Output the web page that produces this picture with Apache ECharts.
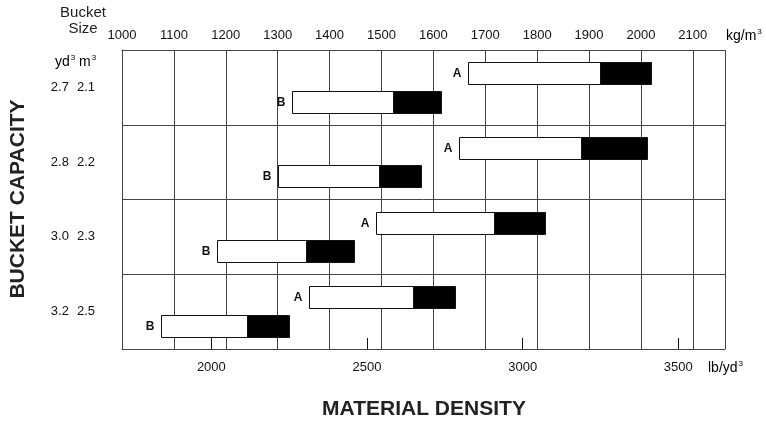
<!DOCTYPE html>
<html>
<head>
<meta charset="utf-8">
<script src="https://cdn.jsdelivr.net/npm/echarts@6/dist/echarts.min.js"></script>
<style>
  html, body { margin: 0; padding: 0; background: #fff; }
  #chart { width: 766px; height: 421px; }
</style>
</head>
<body>
<div id="chart"></div>
<script>
// bucket sizes (rows, top to bottom)
var bucketYd = ['2.7', '2.8', '3.0', '3.2'];
var bucketM = ['2.1', '2.2', '2.3', '2.5'];

// density ranges in kg/m3: white part start, black part start, end
var aStart = [1667, 1650, 1489, 1360];
var aMid = [1922, 1885, 1717, 1561];
var aEnd = [2019, 2012, 1815, 1642];
var bStart = [1328, 1300, 1183, 1075];
var bMid = [1522, 1495, 1355, 1241];
var bEnd = [1615, 1576, 1448, 1322];

// lower scale tick labels (lb/yd3)
var lbTicks = [2000, 2500, 3000, 3500];

var NARROW = '"Liberation Sans Narrow", "Liberation Sans", Arial, sans-serif';
var SANS = '"Liberation Sans", Arial, sans-serif';
var LINE = '#444';

var barData = [];
for (var i = 0; i < bucketYd.length; i++) {
  barData.push([i, aStart[i], aMid[i], aEnd[i], 'A']);
  barData.push([i, bStart[i], bMid[i], bEnd[i], 'B']);
}

function renderBar(params, api) {
  var row = api.value(0);
  var band = api.size([0, 1])[1];
  var mid = api.coord([api.value(1), row])[1];
  var top = mid - band / 2;
  var name = barData[params.dataIndex][4];
  var h = Math.round(band * 0.30);
  var yc = top + band * (name === 'A' ? 0.31 : 0.69);
  var y0 = Math.round(yc - h / 2) + 0.5;
  var x0 = Math.round(api.coord([api.value(1), row])[0]) + 0.5;
  var x1 = Math.round(api.coord([api.value(2), row])[0]) + 0.5;
  var x2 = Math.round(api.coord([api.value(3), row])[0]) + 0.5;
  return {
    type: 'group',
    children: [
      { type: 'rect', shape: { x: x0, y: y0, width: x1 - x0, height: h },
        style: { fill: '#fff', stroke: '#111', lineWidth: 1 } },
      { type: 'rect', shape: { x: x1, y: y0, width: x2 - x1, height: h },
        style: { fill: '#000', stroke: '#111', lineWidth: 1 } },
      { type: 'text', style: { text: name, x: x0 - 7, y: y0 + h / 2,
          align: 'right', verticalAlign: 'middle', fill: '#111',
          font: 'bold 12px ' + NARROW } }
    ]
  };
}

function plain(v) { return String(v); }

// small raised "3" for unit labels
var unitRich = {
  t: { fontSize: 14, fontFamily: SANS, color: '#222', lineHeight: 16 },
  s: { fontSize: 8, fontFamily: SANS, color: '#222', verticalAlign: 'top', lineHeight: 16, padding: [0, 0, 6, 1] }
};
function unitText(txt, x, y) {
  return { type: 'text', style: { text: '{t|' + txt + '}{s|3}', x: x, y: y, verticalAlign: 'middle', rich: unitRich } };
}

var chart = echarts.init(document.getElementById('chart'));
chart.setOption({
  animation: false,
  backgroundColor: '#fff',
  grid: { left: 122, right: 41, top: 50, bottom: 72 },
  xAxis: [{
    type: 'value',
    position: 'top',
    min: 1000,
    max: 2162,
    interval: 100,
    axisLine: { show: true, lineStyle: { color: LINE, width: 1 } },
    axisTick: { show: false },
    axisLabel: { showMaxLabel: false, margin: 8, formatter: plain, color: '#111', fontSize: 13, fontFamily: NARROW },
    splitLine: { show: true, lineStyle: { color: LINE, width: 1 } }
  }, {
    type: 'value',
    position: 'bottom',
    min: 1713,
    max: 3650,
    axisLine: { show: true, lineStyle: { color: LINE, width: 1 } },
    axisTick: { show: true, inside: true, length: 11, customValues: lbTicks, lineStyle: { color: '#111' } },
    axisLabel: { customValues: lbTicks, margin: 12, formatter: plain, color: '#111', fontSize: 13, fontFamily: NARROW },
    splitLine: { show: false }
  }],
  yAxis: {
    type: 'category',
    inverse: true,
    data: bucketYd,
    axisLine: { show: true, lineStyle: { color: LINE, width: 1 } },
    axisTick: { show: false },
    axisLabel: {
      margin: 27,
      formatter: function (v, idx) { return '{a|' + v + '}{b|' + bucketM[idx] + '}'; },
      rich: {
        a: { fontSize: 13, fontFamily: NARROW, color: '#111' },
        b: { fontSize: 13, fontFamily: NARROW, color: '#111', padding: [0, 0, 0, 8] }
      }
    },
    splitLine: { show: true, lineStyle: { color: LINE, width: 1 } }
  },
  graphic: [
    { type: 'text', style: { text: 'Bucket\nSize', x: 83, y: 5, align: 'center', verticalAlign: 'top',
        lineHeight: 16, font: '15px ' + SANS, fill: '#222' } },
    unitText('yd', 55, 62),
    unitText('m', 79, 62),
    unitText('kg/m', 726, 36),
    unitText('lb/yd', 708, 368),
    { type: 'text', x: 18, y: 199, rotation: Math.PI / 2,
      style: { text: 'BUCKET CAPACITY', x: 0, y: 0, align: 'center', verticalAlign: 'middle',
        font: 'bold 21px ' + SANS, fill: '#222' } },
    { type: 'text', style: { text: 'MATERIAL DENSITY', x: 424, y: 409, align: 'center', verticalAlign: 'middle',
        font: 'bold 21px ' + SANS, fill: '#222' } }
  ],
  series: [{
    type: 'custom',
    xAxisIndex: 0,
    renderItem: renderBar,
    encode: { x: [1, 2, 3], y: 0 },
    data: barData,
    z: 10
  }]
});
</script>
</body>
</html>
